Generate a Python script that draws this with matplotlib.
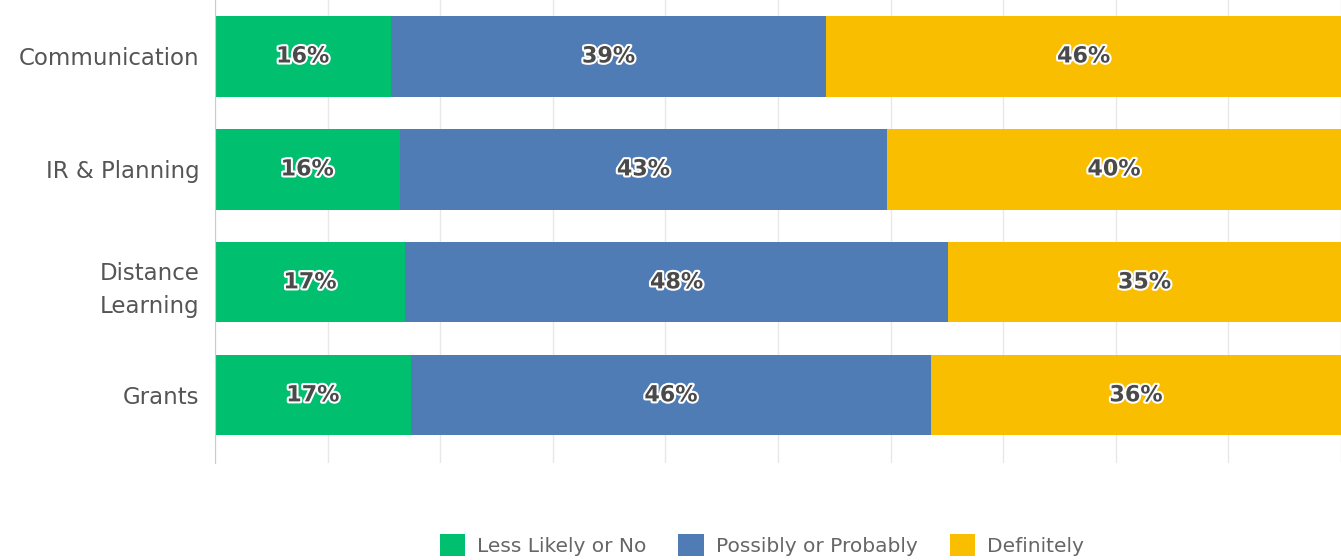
import matplotlib.pyplot as plt
import matplotlib.patheffects as pe
import numpy as np

categories = ["Communication", "IR & Planning", "Distance\nLearning", "Grants"]
less_likely = [15.6, 16.4, 16.9, 17.4]
possibly = [38.7, 43.3, 48.2, 46.2]
definitely = [45.7, 40.3, 34.9, 36.4]

series_names = ["Less Likely or No", "Possibly or Probably", "Definitely"]
colors = ["#00BF6F", "#507CB6", "#F9BE00"]

fig = plt.figure(figsize=(13.41, 5.6), dpi=100)
ax = fig.add_axes([0.1603, 0.173, 0.8397, 0.827])

y = np.arange(len(categories))
left = np.zeros(len(categories))
handles = []
for vals, name, col in zip([less_likely, possibly, definitely], series_names, colors):
    vals = np.array(vals)
    bars = ax.barh(y, vals, left=left, height=0.71, color=col, label=name, zorder=2)
    handles.append(bars)
    for yi, l, v in zip(y, left, vals):
        ax.text(l + v / 2, yi, f"{round(v):d}%", ha="center", va="center",
                fontsize=16, fontweight="bold", color="#4a4a4a", zorder=3,
                path_effects=[pe.withStroke(linewidth=3, foreground="white")])
    left += vals

ax.set_xlim(0, 100)
ax.set_ylim(3.6, -0.5)
ax.set_xticks(np.arange(0, 101, 10))
ax.xaxis.grid(True, color="#e8e8e8", linewidth=1, zorder=0)
ax.tick_params(axis="x", length=0, labelbottom=False)
ax.tick_params(axis="y", length=0, pad=11)
ax.set_yticks(y)
ax.set_yticklabels(categories, fontsize=16.5, color="#555555", linespacing=1.55)
for s in ["top", "right", "bottom"]:
    ax.spines[s].set_visible(False)
ax.spines["left"].set_color("#cccccc")

leg = fig.legend(handles=handles, labels=series_names, loc="center",
                 bbox_to_anchor=(0.568, 0.026), ncol=3, frameon=False,
                 fontsize=14.5, handlelength=1.25, handleheight=1.3,
                 handletextpad=0.6, columnspacing=1.6, labelcolor="#666666")

plt.savefig("out.png", dpi=100)
